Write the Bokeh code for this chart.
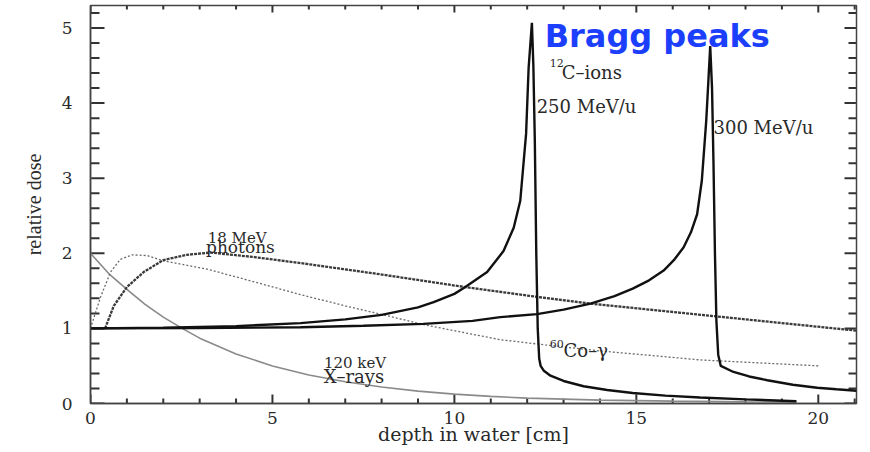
from bokeh.plotting import figure
from bokeh.models import FixedTicker, Label, Range1d, ColumnDataSource
from bokeh.embed import file_html
from bokeh.resources import INLINE

# ---------------- data ----------------
xray_x = [0, 0.5, 1, 1.5, 2, 2.52, 3, 4, 5, 6, 7, 8, 9, 10, 11, 12, 14, 16, 18, 19.4]
xray_y = [2.0, 1.73, 1.52, 1.32, 1.15, 1.0, 0.87, 0.66, 0.50, 0.38, 0.29, 0.22, 0.165,
          0.125, 0.095, 0.072, 0.045, 0.032, 0.022, 0.018]

co_x = [0, 0.27, 0.55, 0.82, 1.15, 1.56, 2.0, 3.2, 4.5, 5.77, 7.0, 7.97, 9.16, 10.2,
        11.26, 12.5, 14.0, 15.4, 16.76, 18.4, 20.05]
co_y = [1.0, 1.41, 1.75, 1.92, 1.98, 1.97, 1.90, 1.79, 1.62, 1.45, 1.30, 1.19, 1.05,
        0.95, 0.85, 0.78, 0.70, 0.64, 0.58, 0.54, 0.50]

ph_x = [0.40, 0.64, 1.0, 1.46, 2.0, 2.65, 3.3, 4.5, 5.77, 7.97, 10.3, 12.27, 13.74,
        17.2, 21.05]
ph_y = [1.0, 1.30, 1.55, 1.75, 1.91, 1.98, 2.01, 1.95, 1.87, 1.72, 1.55, 1.42, 1.33,
        1.16, 0.97]

c250_x = [0, 2, 4, 5.77, 7, 8, 9, 9.43, 10, 10.3, 10.9, 11.35, 11.63, 11.81, 11.97,
          12.04, 12.13, 12.17, 12.21, 12.25, 12.29, 12.33, 12.37, 12.45, 12.64, 13.0,
          13.55, 14.2, 14.9, 15.8, 16.75, 18.0, 19.4]
c250_y = [1.0, 1.01, 1.03, 1.07, 1.12, 1.18, 1.28, 1.35, 1.46, 1.55, 1.75, 2.03, 2.34,
          2.70, 3.59, 4.47, 5.07, 4.5, 3.5, 2.0, 1.0, 0.6, 0.50, 0.44, 0.37, 0.30,
          0.23, 0.18, 0.14, 0.105, 0.08, 0.055, 0.03]

c300_x = [0, 3, 5.77, 7.5, 9.15, 10.5, 11.26, 12.27, 13.0, 13.74, 14.4, 14.9, 15.35,
          15.75, 16.05, 16.3, 16.5, 16.67, 16.8, 16.92, 16.98, 17.03, 17.08, 17.12,
          17.16, 17.2, 17.25, 17.32, 17.67, 18.1, 18.6, 19.3, 19.97, 20.5, 21.05]
c300_y = [1.0, 1.005, 1.015, 1.035, 1.06, 1.1, 1.15, 1.19, 1.25, 1.33, 1.43, 1.53, 1.64,
          1.77, 1.92, 2.08, 2.28, 2.52, 2.97, 3.76, 4.3, 4.76, 4.2, 3.2, 2.0, 1.1, 0.65,
          0.5, 0.42, 0.36, 0.31, 0.25, 0.21, 0.19, 0.17]

x_major = [0, 5, 10, 15, 20]
x_minor = [1, 2, 3, 4, 6, 7, 8, 9, 11, 12, 13, 14, 16, 17, 18, 19, 21]
y_major = [0, 1, 2, 3, 4, 5]
y_minor = [0.2, 0.4, 0.6, 0.8, 1.2, 1.4, 1.6, 1.8, 2.2, 2.4, 2.6, 2.8, 3.2, 3.4, 3.6,
           3.8, 4.2, 4.4, 4.6, 4.8, 5.2]

X_MAX = 21.05
Y_MAX = 5.3

SERIF = "DejaVu Serif"
AX = "#444444"
TXT = "#2a2a2a"

W, H = 870, 452
BL, BR, BT, BB = 90, 14, 5, 49

p = figure(width=W, height=H, x_range=Range1d(0, X_MAX), y_range=Range1d(0, Y_MAX),
           output_backend="svg", toolbar_location=None,
           min_border_left=BL, min_border_right=BR, min_border_top=BT, min_border_bottom=BB)
p.xgrid.visible = False
p.ygrid.visible = False
p.outline_line_color = AX
p.outline_line_width = 1.5

def style_axis(ax):
    ax.axis_line_color = AX
    ax.axis_line_width = 1.5
    ax.major_tick_in = 0
    ax.major_tick_out = 0
    ax.minor_tick_in = 0
    ax.minor_tick_out = 0

xa = p.xaxis[0]
xa.ticker = FixedTicker(ticks=x_major, minor_ticks=[])
style_axis(xa)
xa.major_label_text_font = SERIF
xa.major_label_text_font_size = "17px"
xa.major_label_text_color = TXT
xa.major_label_standoff = 8
xa.axis_label = "depth in water [cm]"
xa.axis_label_text_font = SERIF
xa.axis_label_text_font_size = "19px"
xa.axis_label_text_font_style = "normal"
xa.axis_label_text_color = TXT
xa.axis_label_standoff = -4

ya = p.yaxis[0]
ya.ticker = FixedTicker(ticks=y_major, minor_ticks=[])
style_axis(ya)
ya.major_label_text_font = SERIF
ya.major_label_text_font_size = "17px"
ya.major_label_text_color = TXT
ya.major_label_standoff = 18
ya.axis_label = "relative dose"
ya.axis_label_text_font = "Liberation Serif"
ya.axis_label_text_font_size = "20px"
ya.axis_label_text_font_style = "normal"
ya.axis_label_text_color = TXT
ya.axis_label_standoff = 14

# inward ticks on all four sides, lengths given in pixels and converted to data units
px_x = (W - BL - BR) / X_MAX
px_y = (H - BT - BB) / Y_MAX
TICK = dict(line_color="#333333", line_width=2)

def xticks(xs, y0, length_px, up=True):
    d = length_px / px_y * (1 if up else -1)
    src = ColumnDataSource(dict(x=list(xs), y0=[y0 + d * 0.05] * len(xs), y1=[y0 + d] * len(xs)))
    p.segment(x0="x", y0="y0", x1="x", y1="y1", source=src, **TICK)

def yticks(ys, x0, length_px, right=True):
    d = length_px / px_x * (1 if right else -1)
    src = ColumnDataSource(dict(y=list(ys), x0=[x0 + d * 0.05] * len(ys), x1=[x0 + d] * len(ys)))
    p.segment(x0="x0", y0="y", x1="x1", y1="y", source=src, **TICK)

xticks(x_major, 0, 9)
xticks(x_minor, 0, 5)
xticks(x_major, Y_MAX, 7, up=False)
xticks(x_minor, Y_MAX, 4, up=False)
yticks(y_major, 0, 14)
yticks(y_minor, 0, 9)
yticks(y_major, X_MAX, 12, right=False)
yticks(y_minor, X_MAX, 8, right=False)

# ---------------- curves ----------------
p.line(xray_x, xray_y, line_color="#8a8a8a", line_width=1.6)
p.line(co_x, co_y, line_color="#6a6a6a", line_width=1.3, line_dash="2 2")
p.line(ph_x, ph_y, line_color="#3a3a3a", line_width=2.3, line_dash="3 1")
p.line(c300_x, c300_y, line_color="#111111", line_width=2.4)
p.line(c250_x, c250_y, line_color="#111111", line_width=2.4)

# ---------------- annotations ----------------
def lab(x, y, text, size, align="left", font=SERIF, color=TXT, style="normal"):
    p.add_layout(Label(x=x, y=y, text=text, text_font=font, text_font_size=size,
                       text_align=align, text_baseline="alphabetic",
                       text_color=color, text_font_style=style))

lab(12.48, 4.9, "Bragg peaks", "32px", font="DejaVu Sans", color="#1c3ffd", style="bold")
lab(12.62, 4.53, "12", "11px")
lab(12.95, 4.41, "C\u2013ions", "18px")
lab(12.26, 3.95, "250 MeV/u", "18px")
lab(17.12, 3.67, "300 MeV/u", "18px")
lab(12.62, 0.79, "60", "11px")
lab(13.0, 0.70, "Co\u2013\u03b3", "18px")
lab(4.03, 2.21, "18 MeV", "15px", align="center")
lab(4.12, 2.08, "photons", "17px", align="center")
lab(7.27, 0.545, "120 keV", "15px", align="center")
lab(7.24, 0.36, "X\u2013rays", "18px", align="center")

open("out.html", "w").write(file_html(p, INLINE))
